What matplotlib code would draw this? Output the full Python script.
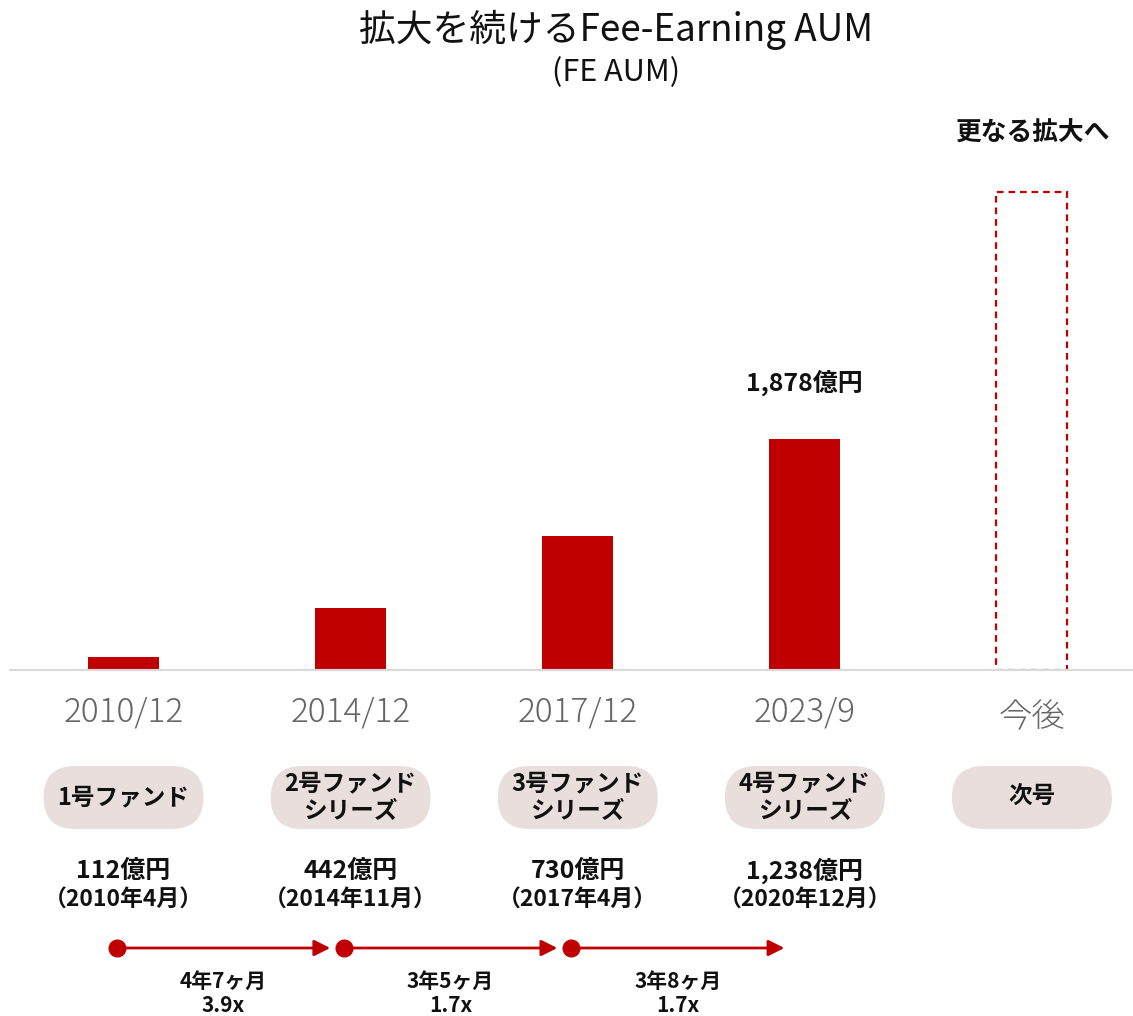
import matplotlib
matplotlib.use("Agg")
import matplotlib.pyplot as plt
from matplotlib.patches import FancyBboxPatch

plt.rcParams['font.family'] = ['Noto Sans CJK JP', 'DejaVu Sans']

# ---- data ----
categories = ["2010/12", "2014/12", "2017/12", "2023/9", "今後"]
fe_aum = [104, 504, 1089, 1878]          # 億円 (bar heights)
future_target = 3886                      # dashed outline bar (illustrative)
fund_names = ["1号ファンド", "2号ファンド\nシリーズ", "3号ファンド\nシリーズ", "4号ファンド\nシリーズ", "次号"]
fund_sizes = ["112億円", "442億円", "730億円", "1,238億円"]
fund_dates = ["（2010年4月）", "（2014年11月）", "（2017年4月）", "（2020年12月）"]
intervals = ["4年7ヶ月", "3年5ヶ月", "3年8ヶ月"]
multiples = ["3.9x", "1.7x", "1.7x"]
last_label = "1,878億円"

RED = "#c00000"
PILL = "#e8dfdc"
GRAY = "#666666"

W, H = 1133, 1016
fig = plt.figure(figsize=(W / 100, H / 100), dpi=100)

# main bar axes: baseline at y=670 px, scale 231 px per 1878
base_px = 670
top_px = 150
px_per_unit = 231 / 1878
ax = fig.add_axes([10 / W, (H - base_px) / H, (W - 10) / W, (base_px - top_px) / H])
ax.set_xlim(-0.5, 4.445)
ax.set_ylim(0, (base_px - top_px) / px_per_unit)
bw = 0.313
ax.bar(range(len(fe_aum)), fe_aum, width=bw, color=RED, zorder=2)
ax.bar([4], [future_target], width=bw, facecolor="none", edgecolor=RED,
       linestyle=(0, (3, 2.2)), linewidth=1.6, zorder=2)
for s in ["top", "right", "left"]:
    ax.spines[s].set_visible(False)
ax.spines["bottom"].set_color("#d9d9d9")
ax.spines["bottom"].set_linewidth(1.5)
ax.set_yticks([])
ax.set_xticks([])
ax.patch.set_alpha(0)

# value label above last bar
ax.text(3, fe_aum[3] + 56 / px_per_unit, last_label, ha="center", va="center",
        fontsize=18, fontweight="bold", color="#111111")
ax.text(4, future_target + 59 / px_per_unit, "更なる拡大へ", ha="center", va="center",
        fontsize=18.5, fontweight="bold", color="#111111")

# overlay axes in pixel coordinates
ov = fig.add_axes([0, 0, 1, 1])
ov.set_xlim(0, W)
ov.set_ylim(H, 0)
ov.axis("off")
ov.patch.set_alpha(0)

fig.canvas.draw()
def xpx(x):
    return ax.transData.transform((x, 0))[0]

ov.text(W / 2 + 50, 30, "拡大を続けるFee-Earning AUM", ha="center", va="center",
        fontsize=26.5, color="#111111")
ov.text(W / 2 + 50, 73, "(FE AUM)", ha="center", va="center",
        fontsize=22, color="#111111")

for i, cat in enumerate(categories):
    cx = xpx(i)
    ov.text(cx, 712 if i < 4 else 718, cat, ha="center", va="center", fontsize=24,
            color=GRAY, fontweight="light")
    pill = FancyBboxPatch((cx - 80, 766), 160, 63,
                          boxstyle="round,pad=0,rounding_size=31.5",
                          facecolor=PILL, edgecolor="none")
    ov.add_patch(pill)
    ov.text(cx, 797, fund_names[i], ha="center", va="center", fontsize=17,
            fontweight="bold", color="#111111", linespacing=1.22)

for i, (sz, dt) in enumerate(zip(fund_sizes, fund_dates)):
    cx = xpx(i)
    ov.text(cx, 871, sz, ha="center", va="center", fontsize=18,
            fontweight="bold", color="#111111")
    ov.text(cx, 900, dt, ha="center", va="center", fontsize=16.5,
            fontweight="bold", color="#111111")

for i, (iv, mu) in enumerate(zip(intervals, multiples)):
    x0 = xpx(i - 0.03)
    x1 = xpx(i + 1 - 0.09)
    ov.annotate("", xy=(x1, 948), xytext=(x0, 948),
                arrowprops=dict(arrowstyle="-|>", color=RED, lw=2,
                                mutation_scale=24, shrinkA=0, shrinkB=0))
    ov.plot([x0], [948], marker="o", markersize=12, color=RED)
    xm = (x0 + x1) / 2
    ov.text(xm, 981, iv, ha="center", va="center", fontsize=15,
            fontweight="bold", color="#111111")
    ov.text(xm, 1005, mu, ha="center", va="center", fontsize=15,
            fontweight="bold", color="#111111")

fig.savefig("out.png", dpi=100)
